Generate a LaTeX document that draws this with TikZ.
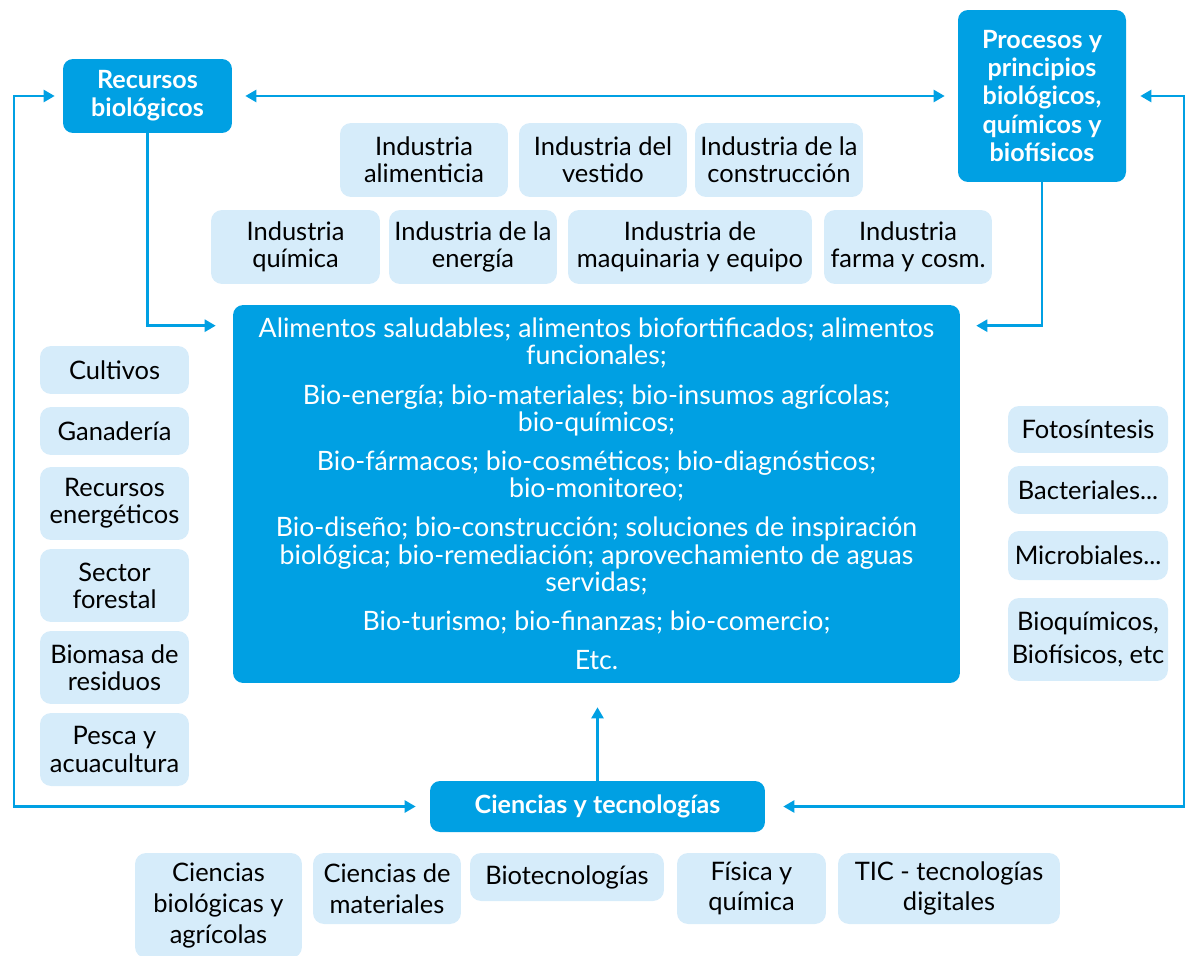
\documentclass[tikz,border=0pt]{standalone}
\usepackage{fontspec}
\setmainfont{Lato}
\usetikzlibrary{arrows.meta,calc}
\definecolor{bioblue}{RGB}{0,160,227}
\definecolor{biolight}{RGB}{214,236,250}

\begin{document}
\begin{tikzpicture}[x=0.02cm,y=-0.02cm,
  every node/.style={font=\fontsize{14.5}{15.5}\selectfont,align=center,inner sep=2pt},
  mainbox/.style={fill=bioblue,text=white,rounded corners=0.2cm,font=\fontsize{14.3}{16}\selectfont\bfseries},
  subbox/.style={fill=biolight,text=black,rounded corners=0.22cm},
  lowbox/.style={subbox,font=\fontsize{14.5}{17.5}\selectfont},
  link/.style={draw=bioblue,line width=1.4pt},
  tip/.style={-{Triangle[length=0.22cm,width=0.24cm]}},
  tips/.style={{Triangle[length=0.22cm,width=0.24cm]}-{Triangle[length=0.22cm,width=0.24cm]}}]
\useasboundingbox (0,0) rectangle (1186,956);
% Main blocks
\node[mainbox,minimum width=3.38cm,minimum height=1.48cm] (rec) at (147.5,96) {Recursos\\biológicos};
\node[mainbox,minimum width=3.36cm,minimum height=3.44cm] (proc) at (1042,96) {Procesos y\\principios\\biológicos,\\químicos y\\biofísicos};
\node[mainbox,minimum width=6.7cm,minimum height=1.02cm] (cyt) at (597.5,806.5) {Ciencias y tecnologías};
\node[mainbox,font=\fontsize{15.2}{15.5}\selectfont,minimum width=14.54cm,minimum height=7.56cm] (prod) at (596.5,494)
  {Alimentos saludables; alimentos biofortificados; alimentos\\funcionales;\\[0.24cm]
   Bio-energía; bio-materiales; bio-insumos agrícolas;\\bio-químicos;\\[0.24cm]
   Bio-fármacos; bio-cosméticos; bio-diagnósticos;\\bio-monitoreo;\\[0.24cm]
   Bio-diseño; bio-construcción; soluciones de inspiración\\biológica; bio-remediación; aprovechamiento de aguas\\servidas;\\[0.24cm]
   Bio-turismo; bio-finanzas; bio-comercio;\\[0.24cm]
   Etc.};
% Industries
\node[subbox,minimum width=3.36cm,minimum height=1.48cm] (alim) at (424,160) {Industria\\alimenticia};
\node[subbox,minimum width=3.36cm,minimum height=1.48cm] (vest) at (603,160) {Industria del\\vestido};
\node[subbox,minimum width=3.36cm,minimum height=1.48cm] (constr) at (779,160) {Industria de la\\construcción};
\node[subbox,minimum width=3.38cm,minimum height=1.48cm] (quim) at (295.5,247) {Industria\\química};
\node[subbox,minimum width=3.36cm,minimum height=1.48cm] (ener) at (473,247) {Industria de la\\energía};
\node[subbox,minimum width=4.88cm,minimum height=1.48cm] (maq) at (690,247) {Industria de\\maquinaria y equipo};
\node[subbox,minimum width=3.36cm,minimum height=1.48cm] (farma) at (908,247) {Industria\\farma y cosm.};
% Left: resources
\foreach \nm/\yy/\hh/\txt in {cult/370/0.96/Cultivos, gan/431/0.96/Ganadería,
    energ/503.5/1.46/Recursos\\energéticos, forest/585.5/1.46/Sector\\forestal,
    biom/667.5/1.46/Biomasa de\\residuos, pesca/749.5/1.46/Pesca y\\acuacultura}
  \node[subbox,minimum width=2.98cm,minimum height=\hh cm] (\nm) at (114.5,\yy) {\txt};
% Right: processes
\foreach \nm/\yy/\hh/\txt in {foto/429.5/0.94/Fotosíntesis, bact/490/0.96/{Bacteriales...},
    micro/555.5/0.98/{Microbiales...}, bioq/639.5/1.66/{Bioquímicos,\\[0.12cm]Biofísicos, etc}}
  \node[subbox,minimum width=3.2cm,minimum height=\hh cm] (\nm) at (1088,\yy) {\txt};
% Bottom: sciences
\node[lowbox,minimum width=3.34cm,minimum height=2.1cm] (cbio) at (218.5,905.5) {Ciencias\\biológicas y\\agrícolas};
\node[lowbox,minimum width=2.96cm,minimum height=1.42cm] (cmat) at (387,888.5) {Ciencias de\\materiales};
\node[lowbox,minimum width=3.88cm,minimum height=0.96cm] (btec) at (567,877) {Biotecnologías};
\node[lowbox,minimum width=2.98cm,minimum height=1.42cm] (fis) at (751.5,888.5) {Física y\\química};
\node[lowbox,minimum width=4.44cm,minimum height=1.42cm] (tic) at (949,888.5) {TIC - tecnologías\\digitales};
% Connectors
\coordinate (lft) at (14,805);
\coordinate (rgt) at (1184,805);
\draw[link,tips,shorten <=0.26cm,shorten >=0.26cm] (rec.east) -- (proc.west);
\draw[link,tip,shorten >=0.34cm] (rec.south) |- ([yshift=-0.42cm]prod.north west);
\draw[link,tip,shorten >=0.32cm] (proc.south) |- ([yshift=-0.42cm]prod.north east);
\draw[link,tips,shorten <=0.16cm,shorten >=0.28cm] (rec.west) -| (lft) |- (cyt.west);
\draw[link,tips,shorten <=0.28cm,shorten >=0.36cm] (proc.east) -| (rgt) |- (cyt.east);
\draw[link,tip,shorten >=0.48cm] (cyt.north) -- (cyt.north |- prod.south);
\end{tikzpicture}
\end{document}
